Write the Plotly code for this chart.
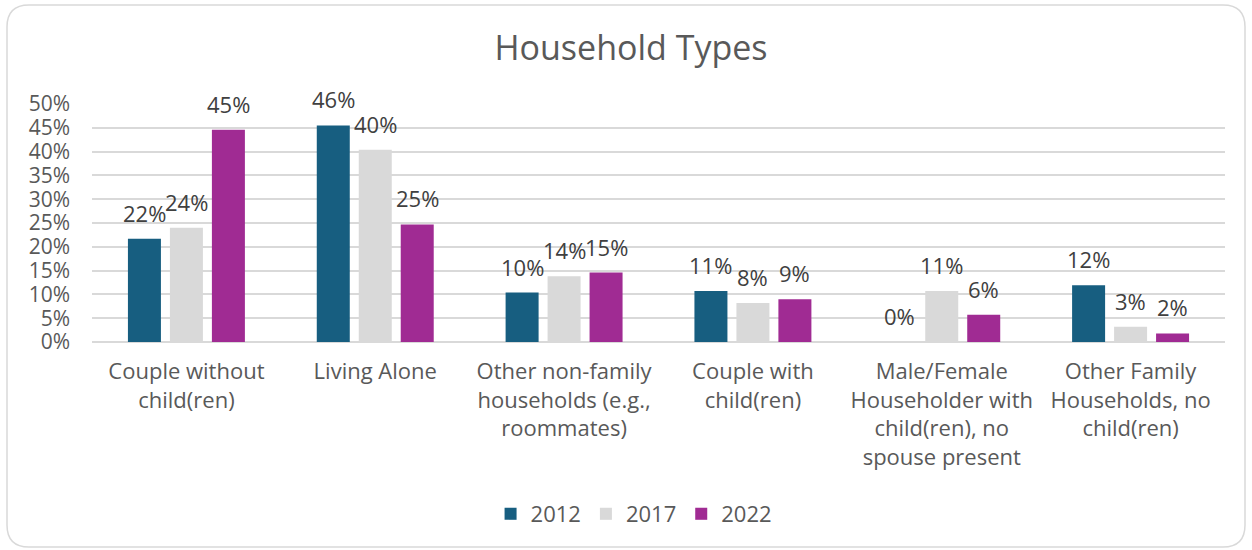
import plotly.graph_objects as go

categories = [
    "Couple without<br>child(ren)",
    "Living Alone",
    "Other non-family<br>households (e.g.,<br>roommates)",
    "Couple with<br>child(ren)",
    "Male/Female<br>Householder with<br>child(ren), no<br>spouse present",
    "Other Family<br>Households, no<br>child(ren)",
]
years = ["2012", "2017", "2022"]
share_2012 = [0.217, 0.455, 0.104, 0.107, 0.0, 0.119]
share_2017 = [0.240, 0.404, 0.138, 0.082, 0.107, 0.032]
share_2022 = [0.446, 0.247, 0.146, 0.090, 0.057, 0.018]
colors = ["#175E80", "#D9D9D9", "#A02B93"]

FONT = "Open Sans, Liberation Sans, Arial, sans-serif"
W, H = 1252, 550
L, R, T, B = 92, 27, 104, 208
BARGAP, GROUPGAP = 0.333, 0.214

series = [share_2012, share_2017, share_2022]

fig = go.Figure()
for name, vals, col in zip(years, series, colors):
    fig.add_trace(go.Bar(
        name=name, x=categories, y=vals, marker_color=col,
        marker_line_width=0, cliponaxis=False,
    ))

pw, ph = W - L - R, H - T - B

# value labels above each bar, offset to the bar's slot within its group
slot = pw / len(categories) * (1 - BARGAP) / len(series)
annotations = []
for i, vals in enumerate(series):
    for cat, v in zip(categories, vals):
        annotations.append(dict(
            x=cat, y=v, xref="x", yref="y", text=f"{v:.0%}",
            showarrow=False, yanchor="bottom", xanchor="center",
            xshift=(i - (len(series) - 1) / 2) * slot, yshift=9,
            font=dict(size=22, color="#404040", family=FONT),
        ))

# rounded outer frame, expressed in plot-area paper coordinates
def px(x):
    return (x - L) / pw
def py(y):
    return (H - B - y) / ph
x0, x1, y0, y1, r = 7, 1245, 5, 547, 22
path = (
    f"M {px(x0 + r)},{py(y0)} L {px(x1 - r)},{py(y0)} "
    f"Q {px(x1)},{py(y0)} {px(x1)},{py(y0 + r)} "
    f"L {px(x1)},{py(y1 - r)} Q {px(x1)},{py(y1)} {px(x1 - r)},{py(y1)} "
    f"L {px(x0 + r)},{py(y1)} Q {px(x0)},{py(y1)} {px(x0)},{py(y1 - r)} "
    f"L {px(x0)},{py(y0 + r)} Q {px(x0)},{py(y0)} {px(x0 + r)},{py(y0)} Z"
)

fig.update_layout(
    width=W, height=H,
    margin=dict(l=L, r=R, t=T, b=B),
    paper_bgcolor="white", plot_bgcolor="white",
    font=dict(family=FONT, color="#595959", size=21),
    title=dict(text="Household Types", x=0.504, xanchor="center",
               y=1 - 48 / H, yanchor="middle",
               font=dict(size=34, color="#595959", family=FONT)),
    barmode="group", bargap=BARGAP, bargroupgap=GROUPGAP,
    showlegend=True,
    legend=dict(orientation="h", x=0.478, xanchor="center",
                y=(H - B - 514) / ph, yanchor="middle",
                font=dict(size=22, color="#595959"),
                itemwidth=30, traceorder="normal"),
    annotations=annotations,
    shapes=[dict(type="path", path=path, xref="paper", yref="paper",
                 line=dict(color="#D9D9D9", width=1.5), layer="below")],
)
fig.update_yaxes(range=[0, 0.5], dtick=0.05, tickformat=".0%",
                 showgrid=True, gridcolor="#D9D9D9", gridwidth=1.5,
                 zeroline=True, zerolinecolor="#D9D9D9", zerolinewidth=1.5,
                 showline=False, ticks="", ticklabelstandoff=21,
                 tickfont=dict(size=21, color="#595959"))
fig.update_xaxes(showline=False, ticks="", tickangle=0, ticklabelstandoff=14,
                 tickfont=dict(size=22, color="#595959"))

fig.write_html("out.html")
